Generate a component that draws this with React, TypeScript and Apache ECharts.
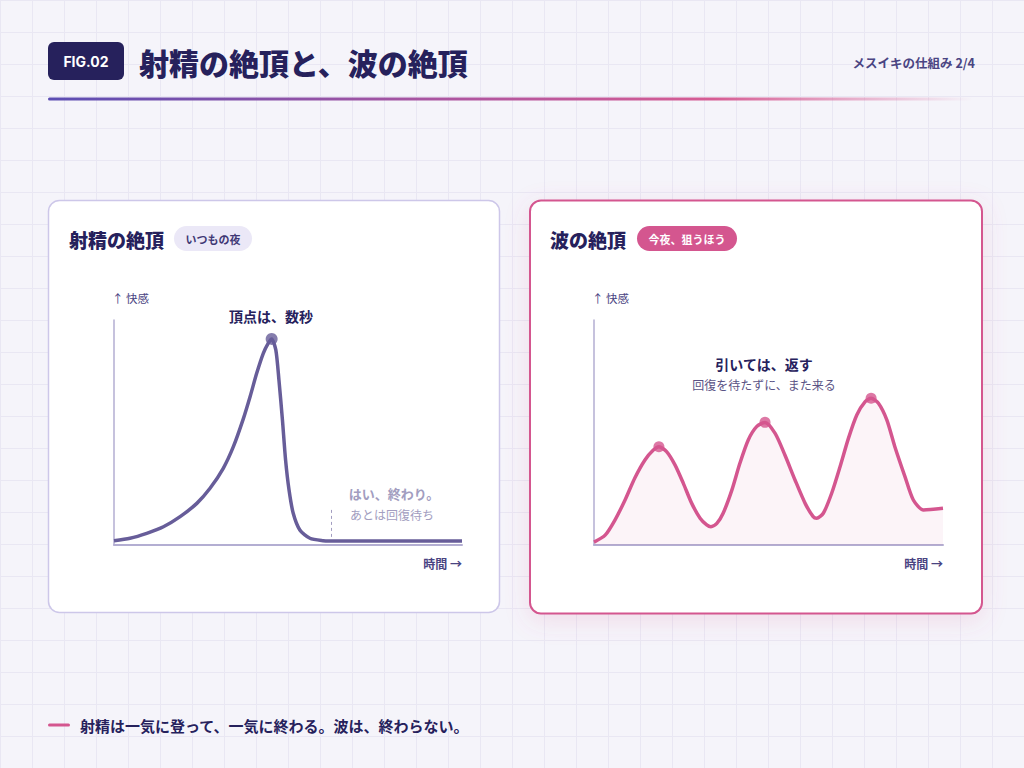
import React, { useEffect, useRef } from "react";
import * as echarts from "echarts";

// ---- data ----
const LEFT_TIME = [0, 4.6, 9.4, 14.2, 19.0, 23.8, 27.6, 31.4, 34.3, 37.2, 39.1, 41.0, 42.9, 44.3, 45.3, 46.5, 47.4, 48.4, 49.3, 50.3, 51.5, 53.4, 56.3, 60.1, 62.1, 80, 100];
const LEFT_PLEASURE = [1.9, 3.0, 5.2, 8.1, 12.6, 18.5, 25.2, 34.1, 43.7, 56.3, 65.9, 76.3, 85.2, 89.6, 91.6, 86.7, 73.3, 55.6, 37.8, 24.4, 14.1, 6.7, 3.0, 1.9, 1.8, 1.8, 1.8];
const LEFT_PEAK_INDEX = [14];
const LEFT_END_MARK_TIME = 62.4;
const LEFT_END_MARK_RANGE = [3.6, 15.6];

const RIGHT_TIME = [0, 3.2, 6.0, 8.9, 11.7, 14.6, 17.0, 18.6, 20.8, 23.2, 25.6, 28.0, 30.4, 32.3, 33.5, 35.2, 37.0, 39.5, 41.8, 44.2, 46.6, 49.0, 51.9, 54.7, 57.6, 60.5, 62.8, 63.8, 65.7, 68.1, 70.5, 72.9, 75.3, 77.7, 79.4, 81.5, 83.9, 86.2, 89.1, 91.5, 94.4, 100];
const RIGHT_PLEASURE = [1.3, 4.4, 11.1, 20.0, 29.8, 37.8, 42.2, 43.7, 41.5, 35.6, 27.4, 18.5, 11.9, 8.9, 8.1, 9.6, 14.1, 24.4, 36.3, 46.7, 52.6, 54.5, 49.6, 40.0, 28.9, 18.5, 12.6, 11.9, 14.1, 23.0, 34.8, 47.4, 57.8, 63.7, 65.2, 63.0, 55.6, 43.7, 30.4, 20.0, 15.6, 16.3];
const RIGHT_PEAK_INDEX = [7, 21, 34];

const TITLE = "射精の絶頂と、波の絶頂";
const FIG_LABEL = "FIG.02";
const PAGE_LABEL = "メスイキの仕組み 2/4";
const LEFT_TITLE = "射精の絶頂";
const LEFT_BADGE = "いつもの夜";
const RIGHT_TITLE = "波の絶頂";
const RIGHT_BADGE = "今夜、狙うほう";
const Y_NAME = "↑ 快感";
const X_NAME = "時間 →";
const LEFT_PEAK_NOTE = "頂点は、数秒";
const LEFT_END_NOTE = ["はい、終わり。", "あとは回復待ち"];
const RIGHT_NOTE = ["引いては、返す", "回復を待たずに、また来る"];
const FOOTER = "射精は一気に登って、一気に終わる。波は、終わらない。";

const FONT = "'Noto Sans CJK JP', 'Noto Sans', sans-serif";
const NAVY = "#26215c";
const PURPLE = "#675d99";
const PINK = "#d4568f";
const MUTED = "#a29dc0";
const AXIS = "#b3aed2";

function pairs(xs: number[], ys: number[]) {
  return xs.map((x, i) => [x, ys[i]]);
}

function txt(text: string, x: number, y: number, size: number, color: string, weight: any = "normal", align = "left", family = FONT) {
  return {
    type: "text",
    z: 10,
    style: {
      text,
      x,
      y,
      fill: color,
      fontSize: size,
      fontWeight: weight,
      fontFamily: family,
      textAlign: align,
      textVerticalAlign: "middle",
      align,
      verticalAlign: "middle",
    },
  };
}

export default function App() {
  const ref = useRef<HTMLDivElement>(null);

  useEffect(() => {
    if (!ref.current) return;
    const chart = echarts.init(ref.current, undefined, { renderer: "svg", width: 1024, height: 768 });

    const gridLines: any[] = [];
    for (let x = 0; x <= 1024; x += 32) {
      gridLines.push({ type: "line", z: -30, silent: true, shape: { x1: x + 0.5, y1: 0, x2: x + 0.5, y2: 768 }, style: { stroke: "#e9e7f3", lineWidth: 1 } });
    }
    for (let y = 0; y <= 768; y += 32) {
      gridLines.push({ type: "line", z: -30, silent: true, shape: { x1: 0, y1: y + 0.5, x2: 1024, y2: y + 0.5 }, style: { stroke: "#e9e7f3", lineWidth: 1 } });
    }

    const graphic: any[] = [
      ...gridLines,
      // header
      { type: "rect", z: 5, shape: { x: 48, y: 42, width: 76, height: 38, r: 6 }, style: { fill: NAVY } },
      txt(FIG_LABEL, 86, 61, 14, "#ffffff", "bold", "center", "Inter, 'Noto Sans', sans-serif"),
      txt(TITLE, 139, 62, 30, NAVY, 900),
      txt(PAGE_LABEL, 975, 62, 12.5, "#4a4482", "bold", "right"),
      {
        type: "rect",
        z: 5,
        shape: { x: 48, y: 97.5, width: 925, height: 3, r: 1.5 },
        style: {
          fill: new echarts.graphic.LinearGradient(0, 0, 1, 0, [
            { offset: 0, color: "#5b4db3" },
            { offset: 0.45, color: "#b0559f" },
            { offset: 0.72, color: "#d65c93" },
            { offset: 1, color: "rgba(214,92,147,0)" },
          ]),
        },
      },
      // left panel
      { type: "rect", z: -10, shape: { x: 48.5, y: 200.5, width: 451, height: 412, r: 11 }, style: { fill: "#ffffff", stroke: "#cdc7e9", lineWidth: 1.5 } },
      txt(LEFT_TITLE, 69, 239, 19, NAVY, 900),
      { type: "rect", z: 5, shape: { x: 174, y: 226, width: 78, height: 25, r: 12.5 }, style: { fill: "#ebe8f7" } },
      txt(LEFT_BADGE, 213, 238.5, 11, "#3f3875", "bold", "center"),
      txt(LEFT_PEAK_NOTE, 271, 316, 14, NAVY, "bold", "center"),
      txt(LEFT_END_NOTE[0], 394, 493, 13, MUTED, "bold", "center"),
      txt(LEFT_END_NOTE[1], 392, 514, 12, MUTED, "normal", "center"),
      // right panel
      {
        type: "rect",
        z: -10,
        shape: { x: 530, y: 200.5, width: 452, height: 413, r: 11 },
        style: { fill: "#ffffff", stroke: PINK, lineWidth: 2, shadowBlur: 24, shadowColor: "rgba(212,86,143,0.16)", shadowOffsetY: 6 },
      },
      txt(RIGHT_TITLE, 550, 239, 19, NAVY, 900),
      { type: "rect", z: 5, shape: { x: 637, y: 226, width: 100, height: 25, r: 12.5 }, style: { fill: PINK } },
      txt(RIGHT_BADGE, 687, 238.5, 11, "#ffffff", "bold", "center"),
      txt(RIGHT_NOTE[0], 764, 364, 14, NAVY, "bold", "center"),
      txt(RIGHT_NOTE[1], 764, 384, 12, "#5a5385", "normal", "center"),
      // footer
      { type: "rect", z: 5, shape: { x: 48, y: 723.5, width: 22, height: 3, r: 1.5 }, style: { fill: PINK } },
      txt(FOOTER, 80, 725, 15, NAVY, "bold"),
    ];

    const axisCommon = {
      min: 0,
      max: 100,
      axisTick: { show: false },
      axisLabel: { show: false },
      splitLine: { show: false },
    };

    const option: any = {
      animation: false,
      backgroundColor: "#f5f4fa",
      textStyle: { fontFamily: FONT },
      graphic,
      grid: [
        { left: 114, top: 320, width: 348, height: 225 },
        { left: 594, top: 320, width: 349, height: 225 },
      ],
      xAxis: [0, 1].map((i) => ({
        ...axisCommon,
        type: "value",
        gridIndex: i,
        axisLine: { show: true, onZero: false, lineStyle: { color: AXIS, width: 2 } },
        name: X_NAME,
        nameLocation: "end",
        nameGap: 0,
        nameTextStyle: { color: "#4a4482", fontSize: 12, fontWeight: "bold", align: "right", verticalAlign: "top", padding: [12, 0, 0, 0] },
      })),
      yAxis: [0, 1].map((i) => ({
        ...axisCommon,
        type: "value",
        gridIndex: i,
        axisLine: { show: true, onZero: false, lineStyle: { color: AXIS, width: 1.5 } },
        name: Y_NAME,
        nameLocation: "end",
        nameGap: 16,
        nameTextStyle: { color: "#4a4482", fontSize: 11.5, align: "left", verticalAlign: "bottom", padding: [0, 0, 0, -2] },
      })),
      series: [
        {
          type: "line",
          xAxisIndex: 0,
          yAxisIndex: 0,
          data: pairs(LEFT_TIME, LEFT_PLEASURE),
          smooth: 0.25,
          showSymbol: false,
          lineStyle: { color: PURPLE, width: 3.5 },
          z: 3,
          markLine: {
            silent: true,
            symbol: "none",
            label: { show: false },
            lineStyle: { color: MUTED, type: [3, 3], width: 1 },
            data: [[{ coord: [LEFT_END_MARK_TIME, LEFT_END_MARK_RANGE[0]] }, { coord: [LEFT_END_MARK_TIME, LEFT_END_MARK_RANGE[1]] }]],
          },
        },
        {
          type: "scatter",
          xAxisIndex: 0,
          yAxisIndex: 0,
          data: LEFT_PEAK_INDEX.map((i) => [LEFT_TIME[i], LEFT_PLEASURE[i]]),
          symbolSize: 12,
          itemStyle: { color: PURPLE },
          z: 4,
        },
        {
          type: "line",
          xAxisIndex: 1,
          yAxisIndex: 1,
          data: pairs(RIGHT_TIME, RIGHT_PLEASURE),
          smooth: 0.25,
          showSymbol: false,
          lineStyle: { color: PINK, width: 3.5 },
          areaStyle: { color: "rgba(212,86,143,0.09)" },
          z: 3,
        },
        {
          type: "scatter",
          xAxisIndex: 1,
          yAxisIndex: 1,
          data: RIGHT_PEAK_INDEX.map((i) => [RIGHT_TIME[i], RIGHT_PLEASURE[i]]),
          symbolSize: 11,
          itemStyle: { color: PINK },
          z: 4,
        },
      ],
    };

    chart.setOption(option);
    return () => chart.dispose();
  }, []);

  return <div ref={ref} style={{ position: "absolute", left: 0, top: 0, width: 1024, height: 768 }} />;
}
